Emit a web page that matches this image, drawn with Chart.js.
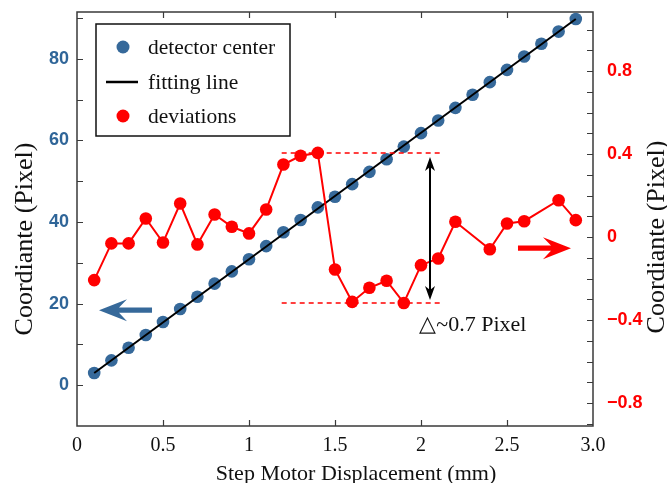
<!DOCTYPE html>
<html><head><meta charset="utf-8">
<script src="https://cdn.jsdelivr.net/npm/chart.js@4/dist/chart.umd.min.js"></script>
<style>html,body{margin:0;padding:0;background:#fff;}#wrap{width:667px;height:483px;}</style>
</head><body><div id="wrap"><canvas id="c" width="667" height="483"></canvas></div>
<script>
// ---- data ----
const displacement = [0.1,0.2,0.3,0.4,0.5,0.6,0.7,0.8,0.9,1.0,1.1,1.2,1.3,1.4,1.5,1.6,1.7,1.8,1.9,2.0,2.1,2.2,2.3,2.4,2.5,2.6,2.7,2.8,2.9];
const detectorCenter = [3.0,6.1,9.2,12.3,15.5,18.7,21.7,24.9,27.9,30.9,34.1,37.5,40.5,43.6,46.2,49.3,52.3,55.4,58.5,61.8,64.9,68.0,71.2,74.3,77.3,80.6,83.7,86.7,89.8];
const fitX = [0.1, 2.9];
const fitY = [3.0, 89.8];
const deviationX = [0.1,0.2,0.3,0.4,0.5,0.6,0.7,0.8,0.9,1.0,1.1,1.2,1.3,1.4,1.5,1.6,1.7,1.8,1.9,2.0,2.1,2.2,2.4,2.5,2.6,2.8,2.9];
const deviationY = [-0.207,-0.03,-0.03,0.09,-0.026,0.162,-0.035,0.109,0.05,0.018,0.133,0.35,0.392,0.406,-0.156,-0.312,-0.244,-0.21,-0.317,-0.135,-0.103,0.074,-0.058,0.066,0.077,0.178,0.082];
const xTicks = [0,0.5,1,1.5,2,2.5,3];
const xTickLabels = ['0','0.5','1','1.5','2','2.5','3.0'];
const leftTicks = [0,20,40,60,80];
const leftTickLabels = ['0','20','40','60','80'];
const rightTicks = [-0.8,-0.4,0,0.4,0.8];
const rightTickLabels = ['\u22120.8','\u22120.4','0','0.4','0.8'];
const peakLevel = 0.405;
const troughLevel = -0.317;
const deltaText = '\u25B3~0.7 Pixel';
const xTitle = 'Step Motor Displacement (mm)';
const yTitle = 'Coordiante (Pixel)';
const seriesNames = ['detector center','fitting line','deviations'];

const BLUE = '#36699a';
const BLUE_TXT = '#2f6598';
const RED = '#ff0000';
const SERIF = "'Liberation Serif', 'Times New Roman', serif";
const SANS = "'Liberation Sans', Arial, sans-serif";

function arrowPoly(ctx, tipX, y, dir, total, headLen, halfW, shaftHalf, notch) {
  const t = tipX, s = -dir;
  ctx.beginPath();
  ctx.moveTo(t, y);
  ctx.lineTo(t + s*headLen, y - halfW);
  ctx.lineTo(t + s*notch, y - shaftHalf);
  ctx.lineTo(t + s*total, y - shaftHalf);
  ctx.lineTo(t + s*total, y + shaftHalf);
  ctx.lineTo(t + s*notch, y + shaftHalf);
  ctx.lineTo(t + s*headLen, y + halfW);
  ctx.closePath();
  ctx.fill();
}

const decor = {
  id: 'decor',
  beforeDatasetsDraw(chart) {
    const {ctx, chartArea: a, scales} = chart;
    ctx.save();
    ctx.strokeStyle = '#3a3a3a';
    ctx.lineWidth = 1.5;
    ctx.strokeRect(a.left, a.top, a.right - a.left, a.bottom - a.top);
    ctx.lineWidth = 1.2;
    ctx.beginPath();
    const L = 6;
    for (let i = 1; i < 6; i++) {
      const px = Math.round(scales.x.getPixelForValue(i*0.5)) + 0.5;
      ctx.moveTo(px, a.bottom); ctx.lineTo(px, a.bottom - L);
      ctx.moveTo(px, a.top); ctx.lineTo(px, a.top + L);
    }
    for (let v = 0; v <= 90; v += 10) {
      const py = Math.round(scales.y.getPixelForValue(v)) + 0.5;
      ctx.moveTo(a.left, py); ctx.lineTo(a.left + L, py);
    }
    for (let k = -9; k <= 10; k++) {
      const py = Math.round(scales.y2.getPixelForValue(k/10)) + 0.5;
      ctx.moveTo(a.right, py); ctx.lineTo(a.right - L, py);
    }
    ctx.stroke();
    ctx.restore();
  },
  afterDatasetsDraw(chart) {
    const {ctx, chartArea: a, scales} = chart;
    const sx = scales.x, sy = scales.y, sr = scales.y2;
    ctx.save();
    // dashed level lines
    ctx.lineWidth = 1.6;
    ctx.setLineDash([5, 4]);
    const x1 = sx.getPixelForValue(1.19), x2 = sx.getPixelForValue(2.13);
    [peakLevel, troughLevel].forEach(v => {
      const py = Math.round(sr.getPixelForValue(v));
      ctx.strokeStyle = RED;
      ctx.beginPath(); ctx.moveTo(x1, py); ctx.lineTo(x2, py); ctx.stroke();
    });
    ctx.setLineDash([]);
    // double arrow
    const ax = Math.round(sx.getPixelForValue(2.05));
    const yT = sr.getPixelForValue(peakLevel) + 4, yB = sr.getPixelForValue(troughLevel) - 3;
    ctx.strokeStyle = '#000'; ctx.fillStyle = '#000'; ctx.lineWidth = 2;
    ctx.beginPath(); ctx.moveTo(ax, yT + 8); ctx.lineTo(ax, yB - 8); ctx.stroke();
    ctx.beginPath(); ctx.moveTo(ax, yT); ctx.lineTo(ax - 5, yT + 14); ctx.lineTo(ax, yT + 10); ctx.lineTo(ax + 5, yT + 14); ctx.closePath(); ctx.fill();
    ctx.beginPath(); ctx.moveTo(ax, yB); ctx.lineTo(ax - 5, yB - 14); ctx.lineTo(ax, yB - 10); ctx.lineTo(ax + 5, yB - 14); ctx.closePath(); ctx.fill();
    // delta text
    ctx.font = '22px ' + SERIF;
    ctx.fillStyle = '#111';
    ctx.textAlign = 'left'; ctx.textBaseline = 'alphabetic';
    ctx.fillText(deltaText, sx.getPixelForValue(1.99), yB + 31);
    // direction arrows
    ctx.fillStyle = BLUE;
    arrowPoly(ctx, sx.getPixelForValue(0.128), sy.getPixelForValue(18.4), -1, 53, 28, 11, 2.6, 20);
    ctx.fillStyle = RED;
    arrowPoly(ctx, sx.getPixelForValue(2.872), sr.getPixelForValue(-0.053), 1, 53, 28, 11, 2.6, 20);
    // legend
    const lx = 96, ly = 24, lw = 194, lh = 112;
    ctx.fillStyle = '#fff';
    ctx.fillRect(lx, ly, lw, lh);
    ctx.strokeStyle = '#111'; ctx.lineWidth = 1.5;
    ctx.strokeRect(lx, ly, lw, lh);
    ctx.font = '21.5px ' + SERIF;
    ctx.textBaseline = 'middle'; ctx.fillStyle = '#111';
    const ds = chart.data.datasets;
    const rows = [47, 82, 116];
    rows.forEach((ry, i) => {
      const d = ds[i];
      if (i === 1) {
        ctx.strokeStyle = d.borderColor; ctx.lineWidth = 2.5;
        ctx.beginPath(); ctx.moveTo(106, ry); ctx.lineTo(138, ry); ctx.stroke();
      } else {
        ctx.fillStyle = d.pointBackgroundColor;
        ctx.beginPath(); ctx.arc(123, ry, 6.5, 0, Math.PI*2); ctx.fill();
      }
      ctx.fillStyle = '#111';
      ctx.fillText(d.label, 148, ry + 1);
    });
    // axis titles
    ctx.fillStyle = '#111';
    ctx.font = '22px ' + SERIF;
    ctx.textAlign = 'center'; ctx.textBaseline = 'alphabetic';
    ctx.fillText(xTitle, 356, 480);
    ctx.font = '26px ' + SERIF;
    ctx.textBaseline = 'middle';
    ctx.save(); ctx.translate(25, 239); ctx.rotate(-Math.PI/2); ctx.fillText(yTitle, 0, 0); ctx.restore();
    ctx.save(); ctx.translate(657, 237); ctx.rotate(-Math.PI/2); ctx.fillText(yTitle, 0, 0); ctx.restore();
    ctx.restore();
  }
};

function noPad(s) { s.paddingTop = 0; s.paddingBottom = 0; s.paddingLeft = 0; s.paddingRight = 0; }

new Chart(document.getElementById('c'), {
  type: 'scatter',
  data: {
    datasets: [
      { label: seriesNames[0], data: displacement.map((x, i) => ({x, y: detectorCenter[i]})), yAxisID: 'y',
        showLine: false, pointRadius: 6.3, pointBackgroundColor: BLUE, pointBorderColor: BLUE, pointBorderWidth: 0, order: 3 },
      { label: seriesNames[1], data: fitX.map((x, i) => ({x, y: fitY[i]})), yAxisID: 'y', showLine: true,
        borderColor: '#000', borderWidth: 2, pointRadius: 0, order: 2, pointBackgroundColor: '#000' },
      { label: seriesNames[2], data: deviationX.map((x, i) => ({x, y: deviationY[i]})), yAxisID: 'y2', showLine: true,
        borderColor: RED, borderWidth: 2, pointRadius: 6.3, pointBackgroundColor: RED, pointBorderColor: RED, pointBorderWidth: 0, order: 1 }
    ]
  },
  options: {
    responsive: false, animation: false, devicePixelRatio: 1,
    layout: { padding: { top: 12, left: 0, right: 0, bottom: 0 } },
    plugins: { legend: { display: false }, tooltip: { enabled: false } },
    scales: {
      x: { type: 'linear', position: 'bottom', min: 0, max: 3,
        afterBuildTicks: s => { s.ticks = xTicks.map(v => ({value: v})); },
        afterFit: s => { s.height = 57; noPad(s); },
        grid: { display: false, drawTicks: false }, border: { display: false },
        ticks: { padding: 8, color: '#111', font: { family: SERIF, size: 20 }, maxRotation: 0,
          callback: v => xTickLabels[xTicks.indexOf(v)] } },
      y: { type: 'linear', position: 'left', min: -10, max: 91.5,
        afterBuildTicks: s => { s.ticks = leftTicks.map(v => ({value: v})); },
        afterFit: s => { s.width = 77; noPad(s); },
        grid: { display: false, drawTicks: false }, border: { display: false },
        ticks: { padding: 8, color: BLUE_TXT, font: { family: SANS, size: 18, weight: 'bold' },
          callback: v => leftTickLabels[leftTicks.indexOf(v)] } },
      y2: { type: 'linear', position: 'right', min: -0.91, max: 1.085,
        afterBuildTicks: s => { s.ticks = rightTicks.map(v => ({value: v})); },
        afterFit: s => { s.width = 74; noPad(s); },
        grid: { display: false, drawTicks: false }, border: { display: false },
        ticks: { padding: 14, color: RED, font: { family: SANS, size: 18, weight: 'bold' },
          callback: v => rightTickLabels[rightTicks.indexOf(v)] } }
    }
  },
  plugins: [decor]
});
</script></body></html>
